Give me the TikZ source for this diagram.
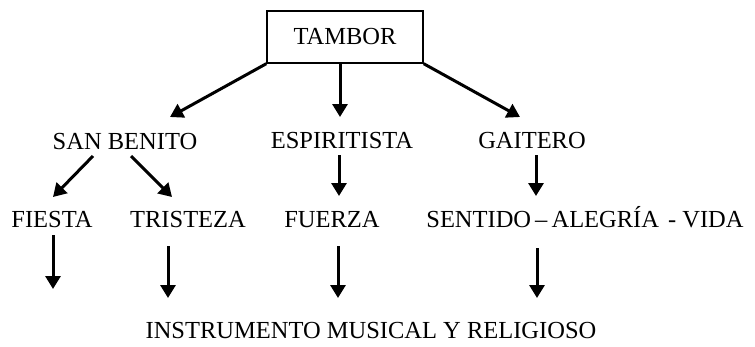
\documentclass[tikz,border=0pt]{standalone}
\usepackage{fontspec}
\setmainfont{Liberation Serif}
\usetikzlibrary{arrows.meta}

\tikzset{
  lbl/.style={anchor=base, inner sep=0pt, font=\fontsize{24.5}{29}\selectfont},
  arr/.style={line width=3pt, -{Triangle[length=13pt,width=15pt]}},
}

\begin{document}
\begin{tikzpicture}[x=1pt, y=-1pt, line cap=butt]
  \useasboundingbox (0,0) rectangle (755,346);

  % top box
  \node[draw, line width=1.4pt, minimum width=156pt, minimum height=52pt,
        inner sep=0pt, font=\fontsize{24.5}{29}\selectfont] (tambor) at (345,37) {TAMBOR};

  % second row
  \node[lbl] (sanbenito) at (125,149) {SAN BENITO};
  \node[lbl] (espiritista) at (342,148) {ESPIRITISTA};
  \node[lbl] (gaitero) at (532,148) {GAITERO};

  % third row
  \node[lbl] (fiesta) at (52,227) {FIESTA};
  \node[lbl] (tristeza) at (188,227) {TRISTEZA};
  \node[lbl] (fuerza) at (332,227) {FUERZA};
  \node[lbl] (sentido) at (585,227) {SENTIDO\,--\,ALEGRÍA\hspace{9pt}- VIDA};

  % bottom
  \node[lbl] (instrumento) at (371,338) {INSTRUMENTO MUSICAL Y RELIGIOSO};

  % arrow ends
  \coordinate (t1) at (170,117);
  \coordinate (t2) at (340,117);
  \coordinate (t3) at (520,117);
  \coordinate (s1) at (93,156);
  \coordinate (s2) at (131,156);
  \coordinate (s3) at (339,155);
  \coordinate (s4) at (536,155);
  \coordinate (f1) at (53,197);
  \coordinate (f2) at (172,197);
  \coordinate (f3) at (339,196);
  \coordinate (f4) at (536,196);
  \coordinate (b1) at (53,235);
  \coordinate (b2) at (168,246);
  \coordinate (b3) at (338,246);
  \coordinate (b4) at (537,248);
  \coordinate (e1) at (53,289);
  \coordinate (e2) at (168,298);
  \coordinate (e3) at (338,298);
  \coordinate (e4) at (537,298);

  % from the box
  \draw[arr] (tambor.south west) -- (t1);
  \draw[arr] (tambor.south -| t2) -- (t2);
  \draw[arr] (tambor.south east) -- (t3);

  % second level
  \draw[arr] (s1) -- (f1);
  \draw[arr] (s2) -- (f2);
  \draw[arr] (s3) -- (f3);
  \draw[arr] (s4) -- (f4);

  % third level
  \draw[arr] (b1) -- (e1);
  \draw[arr] (b2) -- (e2);
  \draw[arr] (b3) -- (e3);
  \draw[arr] (b4) -- (e4);
\end{tikzpicture}
\end{document}
